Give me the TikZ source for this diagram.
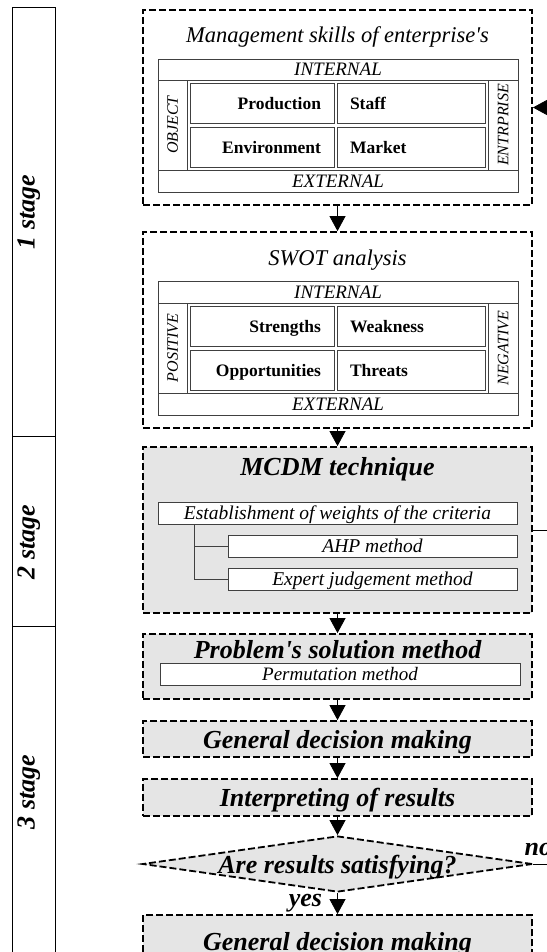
\documentclass[tikz,border=0pt]{standalone}
\usepackage{fontspec}
\setmainfont{Liberation Serif}[Ligatures=TeXOff]
\usetikzlibrary{arrows.meta,shapes.geometric}

\begin{document}
\begin{tikzpicture}[
    x=1pt, y=-1pt,
    stage/.style={draw, line width=0.9pt, inner sep=0pt},
    stagelbl/.style={rotate=90, inner sep=0pt, text depth=0pt,
                     font=\fontsize{26}{30}\selectfont\bfseries\itshape},
    outer/.style={draw, line width=1.8pt, dash pattern=on 7pt off 3pt, inner sep=0pt},
    grey/.style={outer, fill=black!10},
    gbox/.style={grey, minimum width=389pt, text depth=0pt,
                 font=\fontsize{26}{30}\selectfont\bfseries\itshape},
    title/.style={anchor=base, inner sep=0pt, font=\fontsize{22.5}{27}\selectfont\itshape},
    btitle/.style={anchor=base, inner sep=0pt, font=\fontsize{26}{30}\selectfont\bfseries\itshape},
    bfont/.style={inner sep=0pt, font=\fontsize{26}{30}\selectfont\bfseries\itshape},
    frame/.style={draw=black!75, line width=0.7pt, inner sep=0pt},
    row/.style={frame, minimum width=360pt, text depth=0pt, font=\fontsize{19}{22}\selectfont\itshape},
    side/.style={frame, rotate=90, minimum width=90pt, text depth=0pt,
                 font=\fontsize{16}{19}\selectfont\itshape},
    cell/.style={frame, minimum height=40pt, inner xsep=13pt, text depth=0pt,
                 font=\fontsize{17.5}{20}\selectfont\bfseries},
    lcell/.style={cell, text width=118pt, align=right},
    rcell/.style={cell, text width=122pt, align=left},
    method/.style={frame, fill=white, minimum height=22pt, text depth=0pt,
                   font=\fontsize{19.5}{22}\selectfont\itshape},
    decision/.style={diamond, draw, line width=1.8pt, dash pattern=on 7pt off 3pt,
                     fill=black!10, inner sep=0pt},
    flow/.style={-{Triangle[length=15pt, width=16pt]}, line width=0.8pt},
]
\useasboundingbox (0,0) rectangle (546,952);

% Stage column
\node[stage, minimum width=43pt, minimum height=429pt] (st1) at (33.5,221.5) {};
\node[stage, minimum width=43pt, minimum height=190pt] (st2) at (33.5,531) {};
\node[stage, minimum width=43pt, minimum height=344pt] (st3) at (33.5,798) {};
\node[stagelbl] at (26,212) {1 stage};
\node[stagelbl] at (26,542) {2 stage};
\node[stagelbl] at (26,792) {3 stage};

% Management skills
\node[outer, minimum width=389pt, minimum height=195pt] (skills) at (337.5,107.5) {};
\node[title] at (337.5,43) {Management skills of enterprise's};
\node[row, minimum height=21pt] (int1) at (338,69.5) {INTERNAL};
\node[row, minimum height=22pt] (ext1) at (338,181) {EXTERNAL};
\node[side, minimum height=29pt] (obj) at (172.5,125) {OBJECT};
\node[side, minimum height=30pt] (ent) at (503,125) {ENTRPRISE};
\node[frame, minimum width=301pt, minimum height=90pt] (mid1) at (337.5,125) {};
\node[lcell] (prod) at (262,103) {Production};
\node[rcell] (staff) at (411,103) {Staff};
\node[lcell] (env) at (262,147) {Environment};
\node[rcell] (mkt) at (411,147) {Market};

% SWOT analysis
\node[outer, minimum width=389pt, minimum height=196pt] (swot) at (337.5,330) {};
\node[title] at (337.5,265) {SWOT analysis};
\node[row, minimum height=22pt] (int2) at (338,292) {INTERNAL};
\node[row, minimum height=22pt] (ext2) at (338,404) {EXTERNAL};
\node[side, minimum height=29pt] (pos) at (172.5,348) {POSITIVE};
\node[side, minimum height=30pt] (neg) at (503,348) {NEGATIVE};
\node[frame, minimum width=301pt, minimum height=90pt] (mid2) at (337.5,348) {};
\node[lcell] (str) at (262,326) {Strengths};
\node[rcell] (weak) at (411,326) {Weakness};
\node[lcell] (opp) at (262,370) {Opportunities};
\node[rcell] (thr) at (411,370) {Threats};

% MCDM technique
\node[grey, minimum width=389pt, minimum height=166pt] (mcdm) at (337.5,530) {};
\node[btitle] at (337.5,475) {MCDM technique};
\node[method, minimum width=359pt] (est) at (337.5,513) {Establishment of weights of the criteria};
\node[method, minimum width=289pt] (ahp) at (372.5,546) {AHP method};
\node[method, minimum width=289pt] (exp) at (372.5,579) {Expert judgement method};
\coordinate (trunk) at (194,524);
\draw[frame] (trunk) |- (exp.west);
\draw[frame] (trunk |- ahp.west) -- (ahp.west);

% Solution and decision
\node[grey, minimum width=389pt, minimum height=65pt] (solve) at (337.5,666.5) {};
\node[btitle] at (337.5,658) {Problem's solution method};
\node[method, minimum width=360pt, font=\fontsize{19}{22}\selectfont\itshape] (perm) at (340,674) {Permutation method};
\node[gbox, minimum height=36pt] (gen1) at (337.5,739) {General decision making};
\node[gbox, minimum height=37pt] (interp) at (337.5,797.5) {Interpreting of results};
\node[decision, minimum width=390pt, minimum height=56pt,
      label={[bfont, text depth=0pt]center:Are results satisfying?}] (sat) at (337.5,864) {};
\node[gbox, minimum height=52pt] (gen2) at (337.5,941) {General decision making};

% Flow
\draw[flow] (skills) -- (swot);
\draw[flow] (swot) -- (mcdm);
\draw[flow] (mcdm) -- (solve);
\draw[flow] (solve) -- (gen1);
\draw[flow] (gen1) -- (interp);
\draw[flow] (interp) -- (sat);
\draw[flow] (sat) -- node[bfont, left=15pt] {yes} (gen2);

% Feedback
\coordinate (back) at (565,0);
\node[bfont, anchor=base west] (no) at ([xshift=-9pt, yshift=9pt]sat.east) {no};
\draw[flow] (sat.east) -- (sat.east -| back) |- (skills.east);
\draw[line width=0.8pt] (mcdm.east) -- (mcdm.east -| back);
\end{tikzpicture}
\end{document}
